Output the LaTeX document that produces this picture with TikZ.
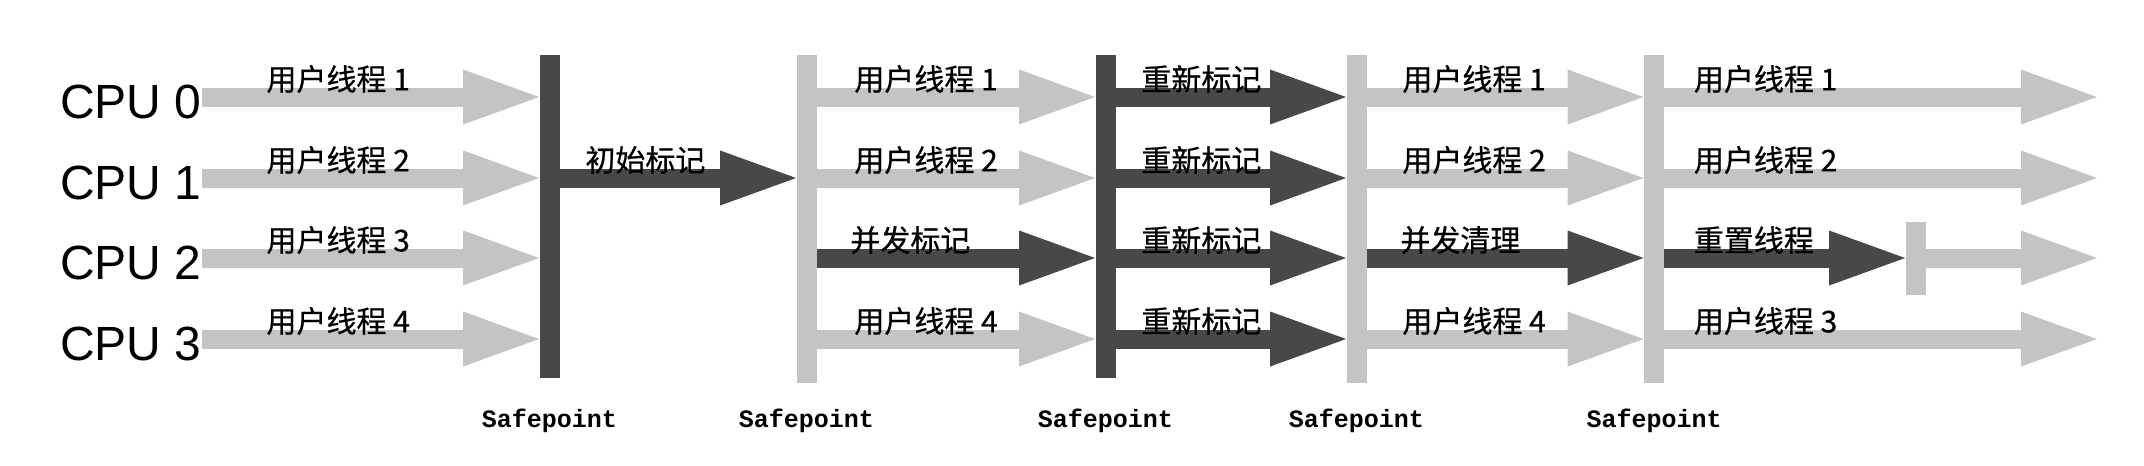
\documentclass[tikz,border=0pt]{standalone}
\usepackage{fontspec}
\usepackage{tikz}
\usetikzlibrary{arrows.meta,positioning}
\newfontfamily\cjk{Noto Sans CJK SC}[UprightFeatures={FakeBold=0.6}]
\newfontfamily\cpufont{Liberation Sans}
\newfontfamily\spfont{Liberation Mono}
\definecolor{lightgc}{RGB}{196,196,196}
\definecolor{darkgc}{RGB}{72,72,72}
\tikzset{
  fat/.style={line width=9.5pt, -{Triangle[width=27.5pt,length=38pt,line width=0pt]}},
  lite/.style={fat, draw=lightgc},
  dark/.style={fat, draw=darkgc},
  bar/.style={rectangle, inner sep=0, minimum width=10pt, minimum height=#1},
  bar/.default=164pt,
  cpu/.style={font=\cpufont\fontsize{24pt}{24pt}\selectfont, anchor=east, inner sep=0},
  sp/.style={font=\spfont\bfseries\fontsize{12.5pt}{12.5pt}\selectfont, inner sep=0},
  lbl/.style={font=\cjk\fontsize{15pt}{15pt}\selectfont, inner sep=0, pos=0, anchor=west, xshift=#1, yshift=9pt},
}
\begin{document}
\begin{tikzpicture}[x=0.5pt,y=-0.5pt]
	\useasboundingbox (0,0) rectangle (2144,466);

	% rows and the free end on the right
	\coordinate (r0) at (0,97);
	\coordinate (r1) at (0,178);
	\coordinate (r2) at (0,258);
	\coordinate (r3) at (0,339);
	\coordinate (fin) at (2097,0);

	\node[cpu] (cpu0) at (202,102) {CPU 0};
	\node[cpu] (cpu1) at (202,183) {CPU 1};
	\node[cpu] (cpu2) at (202,263) {CPU 2};
	\node[cpu] (cpu3) at (202,344) {CPU 3};

	\node[bar=161.5pt, fill=darkgc]  (b1) at (549.5,216.5)  {};
	\node[bar, fill=lightgc]         (b2) at (806.5,219)    {};
	\node[bar=161.5pt, fill=darkgc]  (b3) at (1105.5,216.5) {};
	\node[bar, fill=lightgc]         (b4) at (1356.5,219)   {};
	\node[bar, fill=lightgc]         (b5) at (1654,219)     {};
	\node[bar=36.5pt, fill=lightgc]  (sb) at (1915.5,258.5) {};

	\node[sp] (s1) at (b1 |- 0,421) {Safepoint};
	\node[sp] (s2) at (b2 |- 0,421) {Safepoint};
	\node[sp] (s3) at (b3 |- 0,421) {Safepoint};
	\node[sp] (s4) at (b4 |- 0,421) {Safepoint};
	\node[sp] (s5) at (b5 |- 0,421) {Safepoint};

	% user threads up to the first safepoint
	\path (cpu0.east |- r0) edge[lite] node[lbl=27.5pt]{用户线程 1} (b1.west |- r0);
	\path (cpu1.east |- r1) edge[lite] node[lbl=27.5pt]{用户线程 2} (b1.west |- r1);
	\path (cpu2.east |- r2) edge[lite] node[lbl=27.5pt]{用户线程 3} (b1.west |- r2);
	\path (cpu3.east |- r3) edge[lite] node[lbl=27.5pt]{用户线程 4} (b1.west |- r3);

	% initial mark
	\path (b1.east |- r1) edge[dark] node[lbl=8pt]{初始标记} (b2.west |- r1);

	% concurrent mark
	\path (b2.east |- r0) edge[lite] node[lbl=14pt]{用户线程 1} (b3.west |- r0);
	\path (b2.east |- r1) edge[lite] node[lbl=14pt]{用户线程 2} (b3.west |- r1);
	\path (b2.east |- r2) edge[dark] node[lbl=12pt]{并发标记} (b3.west |- r2);
	\path (b2.east |- r3) edge[lite] node[lbl=14pt]{用户线程 4} (b3.west |- r3);

	% remark
	\path (b3.east |- r0) edge[dark] node[lbl=8pt]{重新标记} (b4.west |- r0);
	\path (b3.east |- r1) edge[dark] node[lbl=8pt]{重新标记} (b4.west |- r1);
	\path (b3.east |- r2) edge[dark] node[lbl=8pt]{重新标记} (b4.west |- r2);
	\path (b3.east |- r3) edge[dark] node[lbl=8pt]{重新标记} (b4.west |- r3);

	% concurrent sweep
	\path (b4.east |- r0) edge[lite] node[lbl=13pt]{用户线程 1} (b5.west |- r0);
	\path (b4.east |- r1) edge[lite] node[lbl=13pt]{用户线程 2} (b5.west |- r1);
	\path (b4.east |- r2) edge[dark] node[lbl=12pt]{并发清理} (b5.west |- r2);
	\path (b4.east |- r3) edge[lite] node[lbl=13pt]{用户线程 4} (b5.west |- r3);

	% reset
	\path (b5.east |- r0) edge[lite] node[lbl=10pt]{用户线程 1} (fin |- r0);
	\path (b5.east |- r1) edge[lite] node[lbl=10pt]{用户线程 2} (fin |- r1);
	\path (b5.east |- r2) edge[dark] node[lbl=10pt]{重置线程} (sb.west |- r2);
	\path (sb.east |- r2) edge[lite] (fin |- r2);
	\path (b5.east |- r3) edge[lite] node[lbl=10pt]{用户线程 3} (fin |- r3);
\end{tikzpicture}
\end{document}
